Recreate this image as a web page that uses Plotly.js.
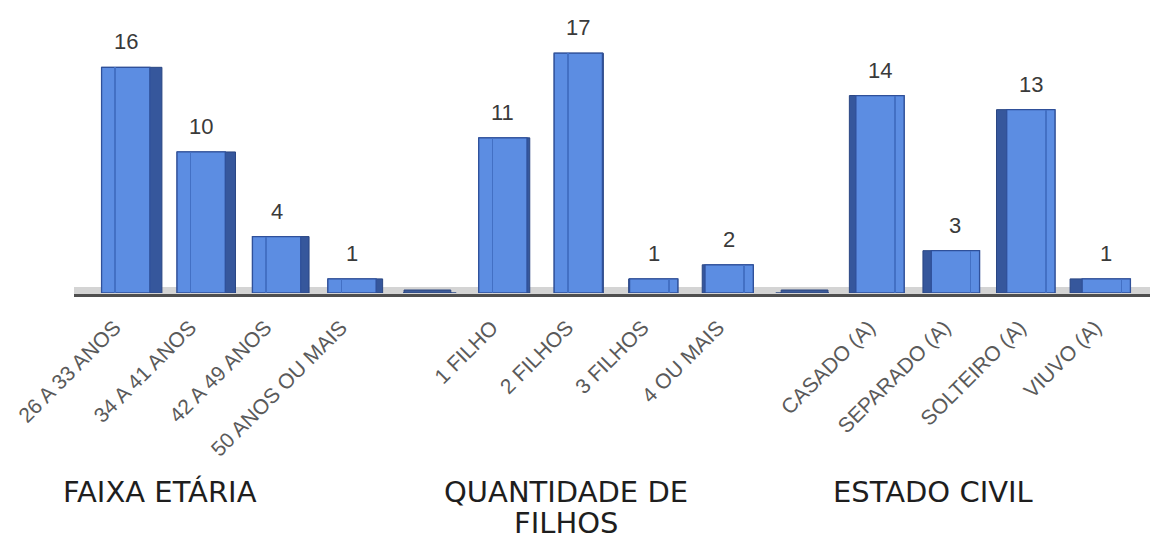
<!DOCTYPE html>
<html>
<head>
<meta charset="utf-8">
<script src="https://cdn.plot.ly/plotly-3.0.1.min.js"></script>
<style>
  html, body { margin: 0; padding: 0; background: #ffffff; }
  #chart { width: 1150px; height: 544px; }
</style>
</head>
<body>
<div id="chart"></div>
<script>
// Survey profile: age range, number of children, marital status
const categories = [
  '26 A 33 ANOS', '34 A 41 ANOS', '42 A 49 ANOS', '50 ANOS OU MAIS', '',
  '1 FILHO', '2 FILHOS', '3 FILHOS', '4 OU MAIS', ' ',
  'CASADO (A)', 'SEPARADO (A)', 'SOLTEIRO (A)', 'VIUVO (A)'
];
const counts = [16, 10, 4, 1, 0, 11, 17, 1, 2, 0, 14, 3, 13, 1];
const groupTitles = ['FAIXA ETÁRIA', 'QUANTIDADE DE<br>FILHOS', 'ESTADO CIVIL'];

// layout geometry (pixels)
const W = 1150, H = 544;
const M = { l: 88, r: 6, t: 25, b: 251 };
const plotH = H - M.t - M.b;
const plotW = W - M.l - M.r;
const pyPaper = py => (H - M.b - py) / plotH;      // pixel row -> paper y
const pxPaper = px => (px - M.l) / plotW;           // pixel col -> paper x

const idx = categories.map((_, i) => i);
const faceW = 0.64;
// side face depth, growing towards the outer edges (perspective look)
const depth = idx.map(i => 0.16 * (1 - i / 6.5));
const sideWidth = depth.map(d => faceW + Math.abs(d));
const sideOffset = depth.map(d => d >= 0 ? -faceW / 2 : -faceW / 2 + d);
// thin shading seam on the front face, opposite the side face
const seamOffset = depth.map(d => d >= 0 ? -faceW / 2 + 0.17 : faceW / 2 - 0.13);

const side = {
  type: 'bar', x: idx, y: counts,
  width: sideWidth, offset: sideOffset,
  marker: { color: '#36579c', line: { color: '#2a4683', width: 1 } },
  hoverinfo: 'skip'
};
const front = {
  type: 'bar', x: idx, y: counts,
  width: faceW,
  marker: {
    color: '#5c8de2',
    line: { color: '#2f509a', width: 1.3 }
  },
  hoverinfo: 'skip'
};
const seam = {
  type: 'bar', x: idx, y: counts,
  width: 0.022, offset: seamOffset,
  marker: { color: '#4370c4', line: { width: 0 } },
  hoverinfo: 'skip'
};

// floor under the bars and flat slabs for empty slots
const shapes = [
  {
    type: 'rect', xref: 'paper', yref: 'paper', ysizemode: 'pixel', yanchor: 0,
    x0: pxPaper(74), x1: pxPaper(1150), y0: -1, y1: 6,
    fillcolor: '#d4d4d4', line: { width: 0 }, layer: 'below'
  },
  {
    type: 'rect', xref: 'paper', yref: 'paper', ysizemode: 'pixel', yanchor: 0,
    x0: pxPaper(74), x1: pxPaper(1150), y0: -4, y1: -1,
    fillcolor: '#4f4f4f', line: { width: 0 }, layer: 'above'
  }
];
counts.forEach((v, i) => {
  if (v === 0) {
    shapes.push({
      type: 'rect', xref: 'x', yref: 'y', ysizemode: 'pixel', yanchor: v,
      x0: i - 0.31, x1: i + 0.31, y0: 0, y1: 3,
      fillcolor: '#3d5b98', line: { color: '#2d4680', width: 1 }
    });
  }
});

// value labels above each bar
const annotations = [];
counts.forEach((v, i) => {
  if (v > 0) {
    annotations.push({
      x: i, y: v, xref: 'x', yref: 'y',
      text: String(v), showarrow: false,
      yanchor: 'bottom', yshift: 11,
      font: { family: 'Liberation Sans, Arial, sans-serif', size: 22, color: '#3a3a3a' }
    });
  }
});

// group titles under the axis, one annotation per text line
const titleX = [160, 566, 933];
const lineStep = 31;
groupTitles.forEach((t, k) => {
  t.split('<br>').forEach((line, j) => {
    annotations.push({
      xref: 'paper', yref: 'paper',
      x: pxPaper(titleX[k]), y: pyPaper(492 + j * lineStep),
      xanchor: 'center', yanchor: 'middle',
      text: line, showarrow: false,
      font: { family: 'DejaVu Sans, Verdana, sans-serif', size: 29, color: '#1e1e1e' }
    });
  });
});

const layout = {
  width: W, height: H,
  margin: M,
  paper_bgcolor: '#ffffff', plot_bgcolor: 'rgba(0,0,0,0)',
  barmode: 'overlay',
  bargap: 0,
  showlegend: false,
  xaxis: {
    range: [-0.5, categories.length - 0.5],
    tickmode: 'array', tickvals: idx, ticktext: categories,
    tickangle: -45,
    ticks: 'outside', ticklen: 13, tickcolor: 'rgba(0,0,0,0)',
    ticklabelshift: -11,
    tickfont: { family: 'Liberation Sans, Arial, sans-serif', size: 21, color: '#5a5a5a' },
    showgrid: false, zeroline: false, showline: false
  },
  yaxis: {
    range: [0, 19],
    showgrid: false, zeroline: false, showline: false,
    showticklabels: false, ticks: ''
  },
  shapes: shapes,
  annotations: annotations
};

Plotly.newPlot('chart', [side, front, seam], layout, { staticPlot: true, displayModeBar: false });
</script>
</body>
</html>
